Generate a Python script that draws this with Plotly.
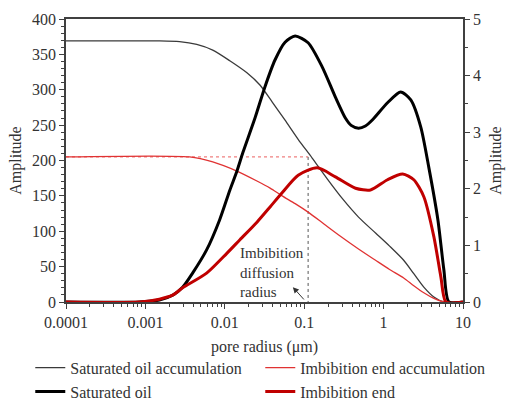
import plotly.graph_objects as go
import numpy as np

FONT = "Times New Roman"

# ---- Data ----
acc_r = [1e-4, 1.5e-3, 2.69e-3, 4.43e-3, 7.05e-3, 1.156e-2, 1.90e-2, 2.77e-2, 3.94e-2, 5.74e-2, 8.39e-2,
         0.126, 0.195, 0.303, 0.483, 0.792, 1.19, 1.79, 2.40, 3.21, 4.30, 5.74, 10]
sat_acc = [369, 369, 368, 364, 356, 341, 324, 306.7, 283, 257, 230,
           203.5, 174, 146, 120, 97.5, 79, 59, 40, 21, 7, 0, 0]

imb_acc_r = [1e-4, 3.6e-3, 7.05e-3, 1.42e-2, 2.54e-2, 3.72e-2, 5.27e-2, 7.69e-2, 0.112, 0.179, 0.286,
             0.483, 0.792, 1.19, 1.79, 2.40, 3.21, 4.30, 5.74, 10]
imb_acc = [205, 205, 198, 185, 171, 161, 150, 139, 127, 110, 93,
           75, 59, 46, 34, 23, 13, 5, 0, 0]

sat_r = [1e-4, 8.4e-4, 1.5e-3, 2.2e-3, 2.94e-3, 3.93e-3, 5.9e-3, 8.6e-3, 1.16e-2, 1.42e-2, 1.69e-2, 2.4e-2,
         3.2e-2, 4.3e-2, 5.74e-2, 7.69e-2, 0.112, 0.169, 0.247, 0.330, 0.39, 0.483, 0.59, 0.726, 1.12, 1.64,
         2.2, 2.94, 3.72, 4.83, 5.74, 6.65, 10]
sat_oil = [0, 0, 0.035, 0.12, 0.26, 0.51, 0.92, 1.45, 1.98, 2.31, 2.64, 3.25,
           3.80, 4.28, 4.59, 4.70, 4.58, 4.15, 3.62, 3.25, 3.12, 3.07, 3.11, 3.22, 3.52, 3.71,
           3.57, 3.09, 2.37, 1.45, 0.57, 0, 0]

imb_r = [1e-4, 8.4e-4, 1.5e-3, 2.2e-3, 2.94e-3, 5.9e-3, 1.06e-2, 1.55e-2, 2.54e-2, 3.72e-2, 5.27e-2, 8.4e-2,
         0.146, 0.247, 0.443, 0.684, 1.12, 1.74, 2.40, 3.21, 4.30, 5.27, 6.1, 10]
imb_end = [0, 0, 0.05, 0.12, 0.25, 0.51, 0.86, 1.10, 1.41, 1.68, 1.93, 2.24,
           2.37, 2.21, 2.01, 1.98, 2.16, 2.26, 2.16, 1.86, 1.15, 0.44, 0, 0]

diff_radius = 0.112
diff_level = 205

x_ticks = [1e-4, 1e-3, 1e-2, 1e-1, 1, 10]
x_ticktext = ["0.0001", "0.001", "0.01", "0.1", "1", "10"]

fig = go.Figure()

fig.add_trace(go.Scatter(x=[1e-4, diff_radius], y=[diff_level, diff_level], mode="lines",
                         line=dict(color="#f08080", width=1.2, dash="dot"), showlegend=False, hoverinfo="skip"))
fig.add_trace(go.Scatter(x=[diff_radius, diff_radius], y=[diff_level, 0], mode="lines",
                         line=dict(color="#555555", width=1, dash="dot"), showlegend=False, hoverinfo="skip"))

fig.add_trace(go.Scatter(x=acc_r, y=sat_acc, mode="lines", name="Saturated oil accumulation",
                         line=dict(color="#3a3a3a", width=1.3, shape="spline", smoothing=0.7)))
fig.add_trace(go.Scatter(x=imb_acc_r, y=imb_acc, mode="lines", name="Imbibition end accumulation",
                         line=dict(color="#e03232", width=1.3, shape="spline", smoothing=0.7)))
fig.add_trace(go.Scatter(x=sat_r, y=sat_oil, mode="lines", name="Saturated oil", yaxis="y2",
                         line=dict(color="#000000", width=3, shape="spline", smoothing=0.7)))
fig.add_trace(go.Scatter(x=imb_r, y=imb_end, mode="lines", name="Imbibition end", yaxis="y2",
                         line=dict(color="#c00000", width=3, shape="spline", smoothing=0.7)))

axis_col = "#404040"
txt_col = "#333333"
FS = 16
fig.update_layout(
    width=506, height=402,
    margin=dict(l=66, r=43, t=19, b=100, autoexpand=False),
    paper_bgcolor="white", plot_bgcolor="white",
    font=dict(family=FONT, size=FS, color=txt_col),
    xaxis=dict(type="log", range=[-4, 1], tickvals=x_ticks, ticktext=x_ticktext,
               showgrid=False, zeroline=False, showline=True, linecolor=axis_col, linewidth=1.5,
               mirror=True, ticks="outside", ticklen=5, tickcolor=axis_col,
               tickfont=dict(family=FONT, size=FS, color=txt_col),
               minor=dict(ticks="outside", ticklen=3, dtick="D1", tickcolor=axis_col, showgrid=False),
               title=dict(text="pore radius (μm)", standoff=11, font=dict(family=FONT, size=FS, color=txt_col))),
    yaxis=dict(range=[0, 400], dtick=50, showgrid=False, zeroline=False, showline=True,
               linecolor=axis_col, linewidth=1.5, ticks="outside", ticklen=5, tickcolor=axis_col,
               tickfont=dict(family=FONT, size=FS, color=txt_col),
               minor=dict(ticks="outside", ticklen=3, dtick=10, tickcolor=axis_col, showgrid=False),
               title=dict(text="Amplitude", standoff=6, font=dict(family=FONT, size=FS, color=txt_col))),
    yaxis2=dict(range=[0, 5], dtick=1, overlaying="y", side="right", showgrid=False, zeroline=False,
                showline=True, linecolor=axis_col, linewidth=1.5, ticks="outside", ticklen=5,
                tickcolor=axis_col, tickfont=dict(family=FONT, size=FS, color=txt_col),
                minor=dict(ticks="outside", ticklen=3, dtick=0.5, tickcolor=axis_col, showgrid=False),
                title=dict(text="Amplitude", standoff=10, font=dict(family=FONT, size=FS, color=txt_col))),
    legend=dict(orientation="h", x=-0.09, xanchor="left", y=-0.172, yanchor="top",
                entrywidth=185, entrywidthmode="pixels", font=dict(size=FS, family=FONT, color=txt_col),
                itemwidth=30, bgcolor="rgba(0,0,0,0)"),
    annotations=[
        dict(x=np.log10(0.0146), y=41, xref="x", yref="y", text="Imbibition<br>diffusion<br>radius",
             showarrow=False, xanchor="left", yanchor="middle", align="left",
             font=dict(size=15, family=FONT, color=txt_col)),
        dict(x=np.log10(0.072), y=21, xref="x", yref="y", ax=np.log10(0.103), ay=1.5,
             axref="x", ayref="y", text="", showarrow=True, arrowhead=2, arrowsize=1.2,
             arrowwidth=1, arrowcolor="#333333"),
    ],
)

fig.write_html("out.html")
